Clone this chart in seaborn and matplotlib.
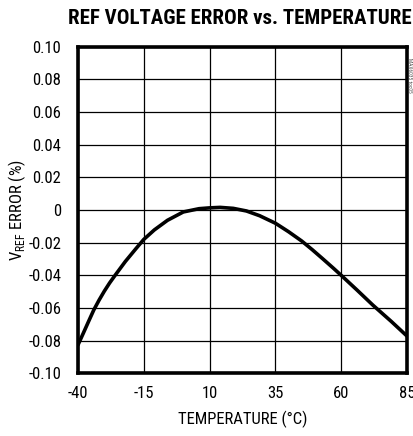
import matplotlib
matplotlib.use("Agg")
import matplotlib.pyplot as plt
from matplotlib import font_manager as fm
import seaborn as sns
import pandas as pd

temperature = [-40, -38, -36, -34, -32, -30, -28, -26, -22, -18, -15, -11, -6, 0, 6, 10, 14, 19, 24, 29, 35,
               40, 45, 49, 53, 57, 60, 66, 72, 79, 85]
vref_error = [-0.0826, -0.0755, -0.0683, -0.0612, -0.0552, -0.0497, -0.0447, -0.0402, -0.0315, -0.0237,
              -0.0180, -0.0122, -0.0063, -0.0012, 0.0008, 0.0013, 0.0016, 0.001, -0.0006, -0.0035, -0.0081,
              -0.0133, -0.0190, -0.0243, -0.0299, -0.0356, -0.0400, -0.0490, -0.0582, -0.0682, -0.0772]
x_ticks = [-40, -15, 10, 35, 60, 85]
y_ticks = [-0.10, -0.08, -0.06, -0.04, -0.02, 0, 0.02, 0.04, 0.06, 0.08, 0.10]
y_tick_labels = ["-0.10", "-0.08", "-0.06", "-0.04", "-0.02", "0", "0.02", "0.04", "0.06", "0.08", "0.10"]

sns.set_theme(style="white")

def pick(names):
    for n in names:
        try:
            fm.findfont(fm.FontProperties(family=n), fallback_to_default=False)
            return n
        except Exception:
            pass
    return "DejaVu Sans"

narrow = pick(["Liberation Sans Narrow", "Roboto Condensed", "DejaVu Sans"])
plt.rcParams['font.family'] = [narrow, 'DejaVu Sans']
plt.rcParams['mathtext.fontset'] = 'custom'
plt.rcParams['mathtext.rm'] = narrow

df = pd.DataFrame({"T": temperature, "E": vref_error})

fig = plt.figure(figsize=(4.14, 4.36), dpi=100)
ax = fig.add_axes([78/414, 1-373.3/436, (407-78)/414, (373.3-46.7)/436])

sns.lineplot(data=df, x="T", y="E", ax=ax, color="black", linewidth=2.6, zorder=5)

ax.set_xlim(-40, 85)
ax.set_ylim(-0.10, 0.10)
ax.set_xticks(x_ticks)
ax.set_xticklabels([str(t) for t in x_ticks], fontsize=12)
ax.set_yticks(y_ticks)
ax.set_yticklabels(y_tick_labels, fontsize=12)
ax.tick_params(axis='both', length=0, colors='black')
ax.tick_params(axis='y', pad=12)
ax.tick_params(axis='x', pad=9)
ax.grid(True, color='black', linewidth=0.9)
for s in ax.spines.values():
    s.set_visible(True)
    s.set_color('black')
    s.set_linewidth(2.6)
ax.set_xlabel("TEMPERATURE (°C)", fontsize=12, labelpad=7, color='black')
ax.set_ylabel(r"V$_\mathregular{REF}$ ERROR (%)", fontsize=12, labelpad=0, color='black')

fig.text(240/414, 1-19/436, "REF VOLTAGE ERROR vs. TEMPERATURE", ha='center', va='center',
         fontsize=15, fontweight='heavy', family=[narrow, 'DejaVu Sans'], color='black')
fig.text(410/414, 1-75/436, "MAX6035 toc05", rotation=270, ha='center', va='center',
         fontsize=4, color='#555555')

fig.savefig("out.png", dpi=100)
